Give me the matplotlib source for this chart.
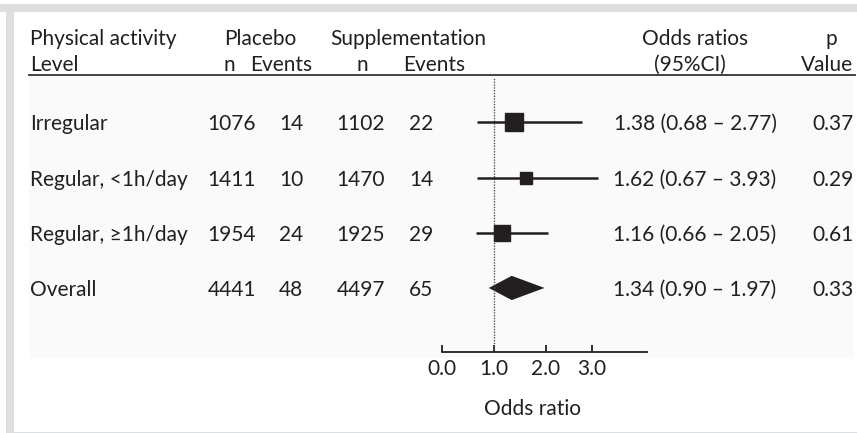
import matplotlib.pyplot as plt
import matplotlib.transforms as mtransforms
import numpy as np
from matplotlib.patches import Rectangle

# ── data ──────────────────────────────────────────────────────────────
LEVELS      = ["Irregular", "Regular, <1h/day", "Regular, \u22651h/day", "Overall"]
PLACEBO_N   = [1076, 1411, 1954, 4441]
PLACEBO_EV  = [14, 10, 24, 48]
SUPP_N      = [1102, 1470, 1925, 4497]
SUPP_EV     = [22, 14, 29, 65]
OR_EST      = [1.38, 1.62, 1.16, 1.34]
OR_LO       = [0.68, 0.67, 0.66, 0.90]
OR_HI       = [2.77, 3.93, 2.05, 1.97]
P_VALUES    = ["0.37", "0.29", "0.61", "0.33"]
X_TICKS     = [0.0, 1.0, 2.0, 3.0]

# square sizes (pt) per study row, last row is the diamond
SQ_SIZE = [13.5, 8.5, 12.0]

# the printed axis is compressed above 3 (like the source figure)
SCALE_IN  = [0.0, 1.0, 2.0, 3.0, 4.0, 12.0]
SCALE_OUT = [0.0, 1.0, 2.0, 2.885, 3.0, 3.94]

W, H = 857, 433
INK = "#231f20"
plt.rcParams["font.family"] = ["Lato", "DejaVu Sans"]
FS = 15


def fx(px):
    return px / W


def fy(py):
    return 1 - py / H


def fwd(x):
    return np.interp(x, SCALE_IN, SCALE_OUT)


def inv(y):
    return np.interp(y, SCALE_OUT, SCALE_IN)


fig = plt.figure(figsize=(W / 100, H / 100), dpi=100)
fig.patch.set_facecolor("white")

# grey frame + light table panel (kept behind the axes)
bg = dict(transform=fig.transFigure, lw=0, zorder=-10)
fig.add_artist(Rectangle((0, fy(12)), 1, fy(4) - fy(12), color="#dcdee0", **bg))
fig.add_artist(Rectangle((fx(6), 0), fx(8), fy(4), color="#dcdee0", **bg))
fig.add_artist(Rectangle((fx(14), 0), 1, 1 / H, color="#dcdee0", **bg))
fig.add_artist(Rectangle((fx(29), fy(358)), fx(853 - 29), fy(76) - fy(358),
                         color="#fafafa", **bg))
fig.add_artist(plt.Line2D([fx(29), fx(855)], [fy(75), fy(75)], transform=fig.transFigure,
                          color="#333333", lw=1.3, zorder=-5))

# forest axes
ax = fig.add_axes([fx(442), fy(352), fx(647 - 442), fy(75) - fy(352)])
ax.set_xscale("function", functions=(fwd, inv))
ax.set_xlim(SCALE_IN[0], SCALE_IN[-1])
ax.set_ylim(4.16, -0.857)
ax.patch.set_alpha(0)
for s in ("top", "right", "left"):
    ax.spines[s].set_visible(False)
ax.spines["bottom"].set_color(INK)
ax.spines["bottom"].set_linewidth(1.3)
ax.set_yticks([])
ax.set_xticks(X_TICKS)
ax.set_xticklabels([f"{t:.1f}" for t in X_TICKS])
ax.xaxis.set_minor_locator(plt.NullLocator())
ax.tick_params(axis="x", direction="in", length=5, width=1.3, color=INK,
               labelsize=FS, labelcolor=INK, pad=5)
ax.set_xlabel("Odds ratio", fontsize=FS, color=INK)
ax.xaxis.set_label_coords((532 - 442) / (647 - 442), -(399 - 352) / (352 - 75))

ax.axvline(1.0, ymin=0, ymax=0.99, color="#555555", lw=1, ls=(0, (1, 1)))

n = len(LEVELS)
for i in range(n - 1):
    ax.plot([OR_LO[i], OR_HI[i]], [i, i], color=INK, lw=1.8, solid_capstyle="butt")
    ax.plot(OR_EST[i], i, marker="s", ms=SQ_SIZE[i], color=INK, mec=INK)
# overall diamond
j = n - 1
h = 0.22
ax.fill([OR_LO[j], OR_EST[j], OR_HI[j], OR_EST[j]], [j, j - h, j, j + h],
        color=INK, lw=0)

# table text
rows = mtransforms.blended_transform_factory(fig.transFigure, ax.transData)
kw = dict(fontsize=FS, color=INK, va="center_baseline", transform=rows)
for i in range(n):
    fig.text(fx(30), i, LEVELS[i], ha="left", **kw)
    fig.text(fx(232), i, str(PLACEBO_N[i]), ha="center", **kw)
    fig.text(fx(291), i, str(PLACEBO_EV[i]), ha="center", **kw)
    fig.text(fx(361), i, str(SUPP_N[i]), ha="center", **kw)
    fig.text(fx(421), i, str(SUPP_EV[i]), ha="center", **kw)
    fig.text(fx(695), i, f"{OR_EST[i]:.2f} ({OR_LO[i]:.2f} \u2013 {OR_HI[i]:.2f})",
             ha="center", **kw)
    fig.text(fx(833), i, P_VALUES[i], ha="center", **kw)

hk = dict(fontsize=FS, color=INK, va="baseline")
line1, line2 = fy(45), fy(71)
fig.text(fx(30), line1, "Physical activity", ha="left", **hk)
fig.text(fx(30), line2, "Level", ha="left", **hk)
fig.text(fx(260), line1, "Placebo", ha="center", **hk)
fig.text(fx(229), line2, "n", ha="center", **hk)
fig.text(fx(281), line2, "Events", ha="center", **hk)
fig.text(fx(408), line1, "Supplementation", ha="center", **hk)
fig.text(fx(362), line2, "n", ha="center", **hk)
fig.text(fx(434), line2, "Events", ha="center", **hk)
fig.text(fx(695), line1, "Odds ratios", ha="center", **hk)
fig.text(fx(690), line2, "(95%CI)", ha="center", **hk)
fig.text(fx(831), line1, "p", ha="center", **hk)
fig.text(fx(853), line2, "Value", ha="right", **hk)

fig.savefig("out.png", dpi=100)
